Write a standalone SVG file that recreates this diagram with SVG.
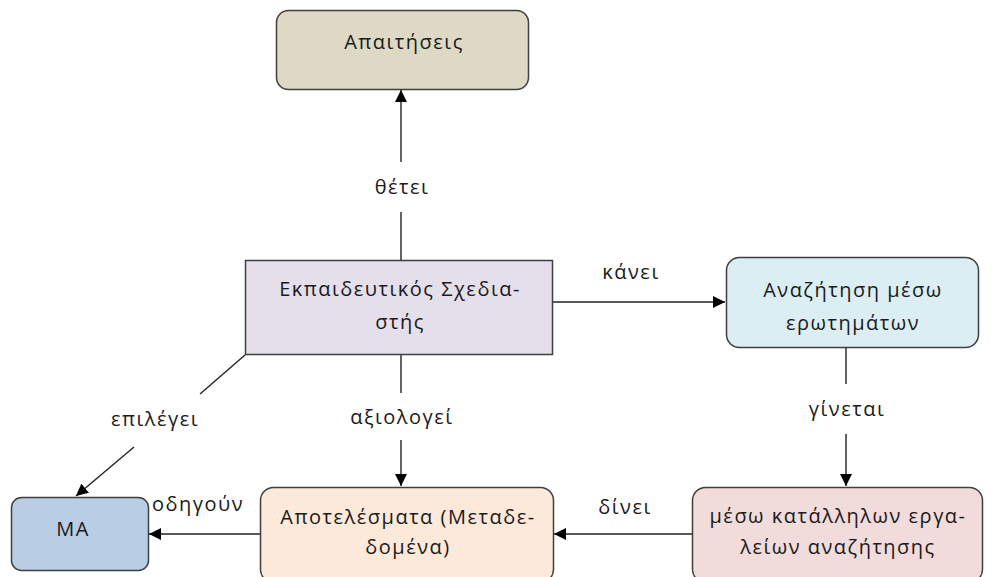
<svg xmlns="http://www.w3.org/2000/svg" width="991" height="577" viewBox="0 0 991 577">
  <style>
    .box { stroke: #3f3f3f; stroke-width: 1.5; }
    .t { font-family: "Open Sans", "Noto Sans", "DejaVu Sans", sans-serif; font-size: 20px; letter-spacing: 1.5px; fill: #1a1a1a; text-anchor: middle; }
    .edge { stroke: #222; stroke-width: 1.4; fill: none; }
  </style>
  <defs>
    <marker id="arrow" viewBox="0 0 12 12" refX="12" refY="6" markerWidth="12" markerHeight="12" markerUnits="userSpaceOnUse" orient="auto">
      <path d="M0,0 L12,6 L0,12 z" fill="#000"/>
    </marker>
  </defs>
  <rect width="991" height="577" fill="#fff"/>

  <g id="connectors">
    <!-- designer -> requirements -->
    <path class="edge" d="M401,260 V212"/>
    <path class="edge" d="M401,162 V90" marker-end="url(#arrow)"/>
    <text class="t" x="402" y="194">θέτει</text>
    <!-- designer -> query search -->
    <path class="edge" d="M552,302 H725" marker-end="url(#arrow)"/>
    <text class="t" x="631" y="279">κάνει</text>
    <!-- query search -> tools -->
    <path class="edge" d="M846,348 V384"/>
    <path class="edge" d="M846,434 V486" marker-end="url(#arrow)"/>
    <text class="t" x="847" y="416">γίνεται</text>
    <!-- tools -> results -->
    <path class="edge" d="M692,534 H554" marker-end="url(#arrow)"/>
    <text class="t" x="625" y="514">δίνει</text>
    <!-- designer -> results -->
    <path class="edge" d="M401,355 V393"/>
    <path class="edge" d="M401,440 V486" marker-end="url(#arrow)"/>
    <text class="t" x="402" y="424">αξιολογεί</text>
    <!-- results -> MA -->
    <path class="edge" d="M260,534 H149" marker-end="url(#arrow)"/>
    <text class="t" x="198" y="511">οδηγούν</text>
    <!-- designer -> MA -->
    <path class="edge" d="M245,355 L200,394"/>
    <path class="edge" d="M134,447 L76,496" marker-end="url(#arrow)"/>
    <text class="t" x="155" y="426">επιλέγει</text>
  </g>

  <g id="requirements">
    <rect class="box" x="276.5" y="10.5" width="252" height="79" rx="12" fill="#ddd9c4"/>
    <text class="t" x="404" y="49">Απαιτήσεις</text>
  </g>

  <g id="designer">
    <rect class="box" x="245.5" y="260.5" width="307" height="94" fill="#e5dfec"/>
    <text class="t" x="400" y="296">Εκπαιδευτικός Σχεδια-</text>
    <text class="t" x="400" y="329">στής</text>
  </g>

  <g id="query-search">
    <rect class="box" x="726.5" y="257.5" width="252" height="90" rx="13" fill="#daeef3"/>
    <text class="t" x="853" y="297">Αναζήτηση μέσω</text>
    <text class="t" x="853" y="330">ερωτημάτων</text>
  </g>

  <g id="search-tools">
    <rect class="box" x="692.5" y="487.5" width="290" height="95" rx="13" fill="#f2dcdb"/>
    <text class="t" x="838" y="523">μέσω κατάλληλων εργα-</text>
    <text class="t" x="838" y="554">λείων αναζήτησης</text>
  </g>

  <g id="results">
    <rect class="box" x="260.5" y="487.5" width="293" height="95" rx="13" fill="#fde9d9"/>
    <text class="t" x="408" y="524">Αποτελέσματα (Μεταδε-</text>
    <text class="t" x="408" y="554">δομένα)</text>
  </g>

  <g id="ma">
    <rect class="box" x="11.5" y="497.5" width="137" height="73" rx="10" fill="#b9cde5"/>
    <text class="t" x="73" y="536">MA</text>
  </g>
</svg>
